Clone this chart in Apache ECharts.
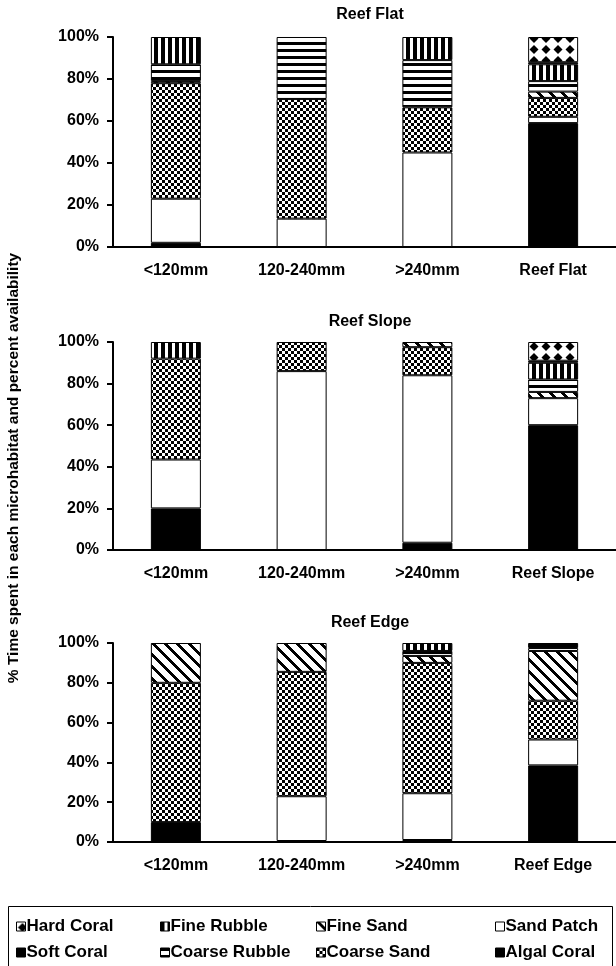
<!DOCTYPE html>
<html>
<head>
<meta charset="utf-8">
<script src="https://cdn.jsdelivr.net/npm/echarts@6/dist/echarts.min.js"></script>
<style>
  html, body { margin: 0; padding: 0; background: #fff; }
  #chart { width: 616px; height: 966px; }
</style>
</head>
<body>
<div id="chart"></div>
<script>
// Categories (size classes of fish plus the availability bar of each zone)
const sizeClasses = ['<120mm', '120-240mm', '>240mm'];
const panelTitles = ['Reef Flat', 'Reef Slope', 'Reef Edge'];
const yTicks = [0, 20, 40, 60, 80, 100];

// Microhabitats, bottom of the stack first
const habitats = ['Algal Coral', 'Sand Patch', 'Coarse Sand', 'Fine Sand',
                  'Coarse Rubble', 'Fine Rubble', 'Soft Coral', 'Hard Coral'];

// Reef Flat: % time per microhabitat (<120, 120-240, >240, availability)
const flatAlgalCoral   = [2, 0, 0, 59];
const flatSandPatch    = [21, 13.5, 45, 3];
const flatCoarseSand   = [55, 57, 21.5, 9];
const flatFineSand     = [1, 0, 0, 3];
const flatCoarseRubble = [8, 29.5, 22.5, 5];
const flatFineRubble   = [13, 0, 11, 8];
const flatSoftCoral    = [0, 0, 0, 1];
const flatHardCoral    = [0, 0, 0, 12];

// Reef Slope
const slopeAlgalCoral   = [20, 0, 3.5, 60];
const slopeSandPatch    = [23.5, 86, 80.5, 13];
const slopeCoarseSand   = [48.5, 14, 13.5, 0];
const slopeFineSand     = [0, 0, 2.5, 3];
const slopeCoarseRubble = [0, 0, 0, 6];
const slopeFineRubble   = [8, 0, 0, 8];
const slopeSoftCoral    = [0, 0, 0, 1];
const slopeHardCoral    = [0, 0, 0, 9];

// Reef Edge
const edgeAlgalCoral   = [10, 0.5, 1, 38.5];
const edgeSandPatch    = [0, 22.5, 23.5, 13];
const edgeCoarseSand   = [70, 62.5, 65.5, 19.5];
const edgeFineSand     = [20, 14.5, 3.5, 25];
const edgeCoarseRubble = [0, 0, 2.5, 1.5];
const edgeFineRubble   = [0, 0, 4, 0];
const edgeSoftCoral    = [0, 0, 0, 2.5];
const edgeHardCoral    = [0, 0, 0, 0];

const panelData = [
  [flatAlgalCoral, flatSandPatch, flatCoarseSand, flatFineSand, flatCoarseRubble, flatFineRubble, flatSoftCoral, flatHardCoral],
  [slopeAlgalCoral, slopeSandPatch, slopeCoarseSand, slopeFineSand, slopeCoarseRubble, slopeFineRubble, slopeSoftCoral, slopeHardCoral],
  [edgeAlgalCoral, edgeSandPatch, edgeCoarseSand, edgeFineSand, edgeCoarseRubble, edgeFineRubble, edgeSoftCoral, edgeHardCoral]
];

// ---- monochrome fill patterns ----
function tile(w, h, draw) {
  const c = document.createElement('canvas');
  c.width = w; c.height = h;
  const ctx = c.getContext('2d');
  ctx.fillStyle = '#fff';
  ctx.fillRect(0, 0, w, h);
  ctx.fillStyle = '#000';
  draw(ctx, w, h);
  return { image: c, repeat: 'repeat' };
}
const fills = {
  'Algal Coral': '#000',
  'Sand Patch': '#fff',
  'Coarse Sand': tile(6, 6, ctx => { ctx.fillRect(0, 0, 3, 3); ctx.fillRect(3, 3, 3, 3); }),
  'Fine Sand': tile(12, 12, (ctx, w, h) => {
    for (let y = 0; y < h; y++) for (let x = 0; x < w; x++) {
      if ((((x - y) % 12) + 12) % 12 < 4) ctx.fillRect(x, y, 1, 1);
    }
  }),
  'Coarse Rubble': tile(7, 7, ctx => { ctx.fillRect(0, 0, 7, 3); }),
  'Fine Rubble': tile(7, 7, ctx => { ctx.fillRect(0, 0, 4, 7); }),
  'Soft Coral': '#000',
  'Hard Coral': tile(12, 11, ctx => {
    ctx.beginPath();
    ctx.moveTo(6, 1); ctx.lineTo(10.5, 5.5); ctx.lineTo(6, 10); ctx.lineTo(1.5, 5.5);
    ctx.closePath(); ctx.fill();
  })
};

const FONT = 'Liberation Sans, Arial, sans-serif';
const gridTops = [37, 342, 643];
const gridHeights = [210, 208, 199];

const grids = [], xAxes = [], yAxes = [], series = [], titles = [];
panelTitles.forEach((name, p) => {
  grids.push({ left: 113, right: -1, top: gridTops[p], height: gridHeights[p] });
  xAxes.push({
    type: 'category', gridIndex: p,
    data: sizeClasses.concat([name]),
    axisLine: { lineStyle: { color: '#000', width: 2 } },
    axisTick: { show: false },
    axisLabel: { color: '#000', fontFamily: FONT, fontWeight: 'bold', fontSize: 16, margin: 16 }
  });
  yAxes.push({
    type: 'value', gridIndex: p, min: yTicks[0], max: yTicks[yTicks.length - 1], interval: 20,
    splitLine: { show: false },
    axisLine: { show: true, lineStyle: { color: '#000', width: 2 } },
    axisTick: { show: true, length: 6, lineStyle: { color: '#000', width: 2 } },
    axisLabel: { color: '#000', fontFamily: FONT, fontWeight: 'bold', fontSize: 16, margin: 14, formatter: '{value}%' }
  });
  titles.push({
    text: name, left: 365, top: gridTops[p] - (p === 0 ? 35 : 33), textAlign: 'center',
    textStyle: { color: '#000', fontFamily: FONT, fontWeight: 'bold', fontSize: 16 }
  });
  habitats.forEach((h, k) => {
    series.push({
      name: h, type: 'bar', stack: 'panel' + p,
      xAxisIndex: p, yAxisIndex: p, barWidth: 50,
      itemStyle: { color: fills[h], borderColor: '#000', borderWidth: 1 },
      emphasis: { disabled: true },
      data: panelData[p][k].map(v => (v === 0 ? '-' : v))
    });
  });
});

// legend: four columns, two rows, one legend component per entry
const legendRows = [
  ['Hard Coral', 'Fine Rubble', 'Fine Sand', 'Sand Patch'],
  ['Soft Coral', 'Coarse Rubble', 'Coarse Sand', 'Algal Coral']
];
const legendLeft = [16, 160, 316, 495];
const legendTop = [918, 944];
const legends = [];
legendRows.forEach((row, r) => row.forEach((item, c) => {
  legends.push({
    left: legendLeft[c], top: legendTop[r], padding: 0, data: [item],
    itemWidth: 9, itemHeight: 9, selectedMode: false, icon: 'rect',
    itemStyle: { borderColor: '#000', borderWidth: 1 },
    textStyle: { color: '#000', fontFamily: FONT, fontWeight: 'bold', fontSize: 17, padding: [0, 0, 0, -4] }
  });
}));

const chart = echarts.init(document.getElementById('chart'), null, { renderer: 'canvas' });
chart.setOption({
  animation: false,
  backgroundColor: '#fff',
  title: titles,
  grid: grids,
  xAxis: xAxes,
  yAxis: yAxes,
  legend: legends,
  series: series,
  graphic: [
    {
      type: 'text', rotation: Math.PI / 2,
      x: 14, y: 468,
      style: {
        text: '% Time spent in each microhabitat and percent availability',
        fill: '#000', font: 'bold 15.5px Liberation Sans, Arial, sans-serif',
        textAlign: 'center', textVerticalAlign: 'middle'
      }
    },
    {
      type: 'rect', shape: { x: 8.5, y: 906.5, width: 604, height: 70 },
      style: { fill: 'none', stroke: '#000', lineWidth: 1 }
    }
  ]
});
</script>
</body>
</html>
